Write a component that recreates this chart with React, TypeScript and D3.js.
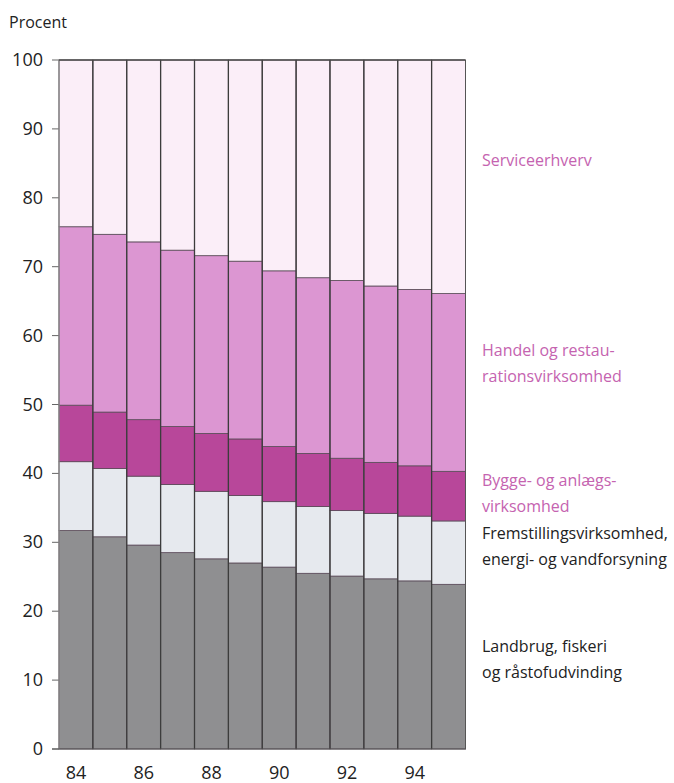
import React from "react";
import * as d3 from "d3";

const years = ["84", "85", "86", "87", "88", "89", "90", "91", "92", "93", "94", "95"];
const tickYears = ["84", "86", "88", "90", "92", "94"];
const yTicks = [0, 10, 20, 30, 40, 50, 60, 70, 80, 90, 100];

// cumulative tops (percent) of each stacked segment
const landbrugTop = [31.7, 30.8, 29.6, 28.5, 27.6, 27.0, 26.4, 25.5, 25.1, 24.7, 24.4, 23.9];
const fremstillingTop = [41.7, 40.7, 39.6, 38.4, 37.4, 36.8, 35.9, 35.2, 34.6, 34.2, 33.8, 33.1];
const byggeTop = [49.9, 48.9, 47.8, 46.8, 45.8, 45.0, 43.9, 42.9, 42.2, 41.6, 41.1, 40.3];
const handelTop = [75.8, 74.7, 73.6, 72.4, 71.6, 70.8, 69.4, 68.4, 68.0, 67.2, 66.7, 66.1];
const serviceTop = [100, 100, 100, 100, 100, 100, 100, 100, 100, 100, 100, 100];

const seriesNames = ["Landbrug", "Fremstilling", "Bygge", "Handel", "Service"];
const seriesColors = ["#8f8f91", "#e6e9ee", "#b8479a", "#dc96d2", "#fbeef8"];
const tops = [landbrugTop, fremstillingTop, byggeTop, handelTop, serviceTop];

const labels = [
  { lines: ["Serviceerhverv"], y: 160, color: "#c563b0" },
  { lines: ["Handel og restau-", "rationsvirksomhed"], y: 350, color: "#c563b0" },
  { lines: ["Bygge- og anlægs-", "virksomhed"], y: 480, color: "#c563b0" },
  { lines: ["Fremstillingsvirksomhed,", "energi- og vandforsyning"], y: 533, color: "#222" },
  { lines: ["Landbrug, fiskeri", "og råstofudvinding"], y: 646, color: "#222" },
];

export default function App() {
  const W = 674, H = 783;
  const x = d3.scaleBand<string>().domain(years).range([59, 465.5]).padding(0);
  const y = d3.scaleLinear().domain([0, 100]).range([749, 60]);
  const font = "'Open Sans', sans-serif";

  return (
    <svg width={W} height={H} style={{ position: "absolute", left: 0, top: 0, background: "#fff" }}>
      <text x={9} y={28} fontSize={16} fontFamily={font} fill="#222">Procent</text>
      {yTicks.map((t) => (
        <g key={t}>
          <text x={43} y={y(t) + 6} fontSize={18} fontFamily={font} fill="#222" textAnchor="end">{t}</text>
          <line x1={52} x2={59} y1={y(t)} y2={y(t)} stroke="#666" strokeWidth={1} />
        </g>
      ))}
      {years.map((yr, i) => {
        const x0 = x(yr)!;
        const bw = x.bandwidth();
        return (
          <g key={yr}>
            {tops.map((arr, s) => {
              const lo = s === 0 ? 0 : tops[s - 1][i];
              const hi = arr[i];
              return (
                <rect key={seriesNames[s]} x={x0} y={y(hi)} width={bw} height={y(lo) - y(hi)}
                  fill={seriesColors[s]} stroke="#5a4a58" strokeWidth={0.8} />
              );
            })}
            <line x1={x0} x2={x0} y1={y(100)} y2={y(0)} stroke={i === 0 ? "#888" : "#3c3c3c"} strokeWidth={1.3} />
          </g>
        );
      })}
      <line x1={x.range()[1]} x2={x.range()[1]} y1={y(100)} y2={y(0)} stroke="#555" strokeWidth={1} />
      <line x1={59} x2={465.5} y1={y(100)} y2={y(100)} stroke="#4a4a4a" strokeWidth={1.5} />
      <line x1={52} x2={466} y1={y(0)} y2={y(0)} stroke="#555" strokeWidth={1.2} />
      {tickYears.map((t) => (
        <text key={t} x={x(t)! + x.bandwidth() / 2} y={779} fontSize={18} fontFamily={font}
          fill="#222" textAnchor="middle">{t}</text>
      ))}
      {labels.map((l, i) => (
        <text key={i} fontSize={16} fontFamily={font} fill={l.color}>
          {l.lines.map((ln, j) => (
            <tspan key={j} x={482} y={l.y + 6 + j * 26}>{ln}</tspan>
          ))}
        </text>
      ))}
    </svg>
  );
}
